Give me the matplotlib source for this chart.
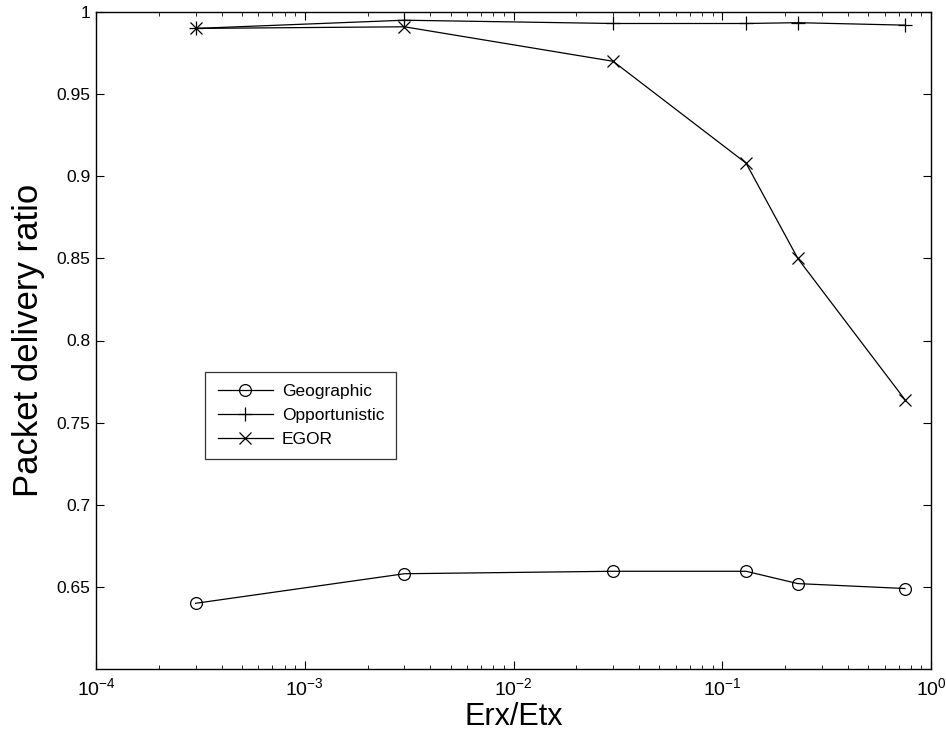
import matplotlib
matplotlib.use("Agg")
import matplotlib.pyplot as plt
from matplotlib.ticker import LogLocator, NullFormatter, FixedLocator

plt.rcParams['font.family'] = ['Liberation Sans', 'DejaVu Sans']
plt.rcParams['mathtext.fontset'] = 'custom'
plt.rcParams['mathtext.rm'] = 'Liberation Sans'
plt.rcParams['mathtext.it'] = 'Liberation Sans'

x = [3e-4, 3e-3, 3e-2, 0.13, 0.23, 0.75]
geographic = [0.640, 0.658, 0.6595, 0.6595, 0.652, 0.649]
opportunistic = [0.990, 0.995, 0.993, 0.993, 0.9935, 0.992]
egor = [0.990, 0.991, 0.970, 0.908, 0.850, 0.764]

yticks = [0.65, 0.7, 0.75, 0.8, 0.85, 0.9, 0.95, 1.0]
ytick_labels = ["0.65", "0.7", "0.75", "0.8", "0.85", "0.9", "0.95", "1"]

fig = plt.figure(figsize=(9.46, 7.36), dpi=100)
ax = fig.add_axes([96/946, 1-669/736, 835/946, 657/736])

lw = 0.9
ax.plot(x, geographic, color='black', lw=lw, marker='o', ms=8.5, mfc='none', mew=0.9, label='Geographic')
ax.plot(x, opportunistic, color='black', lw=lw, marker='+', ms=10, mew=0.9, label='Opportunistic')
ax.plot(x, egor, color='black', lw=lw, marker='x', ms=8, mew=0.9, label='EGOR')

ax.set_xscale('log')
ax.set_xlim(1e-4, 1)
ax.set_ylim(0.6, 1.0)
ax.yaxis.set_major_locator(FixedLocator(yticks))
ax.set_yticklabels(ytick_labels)
ax.xaxis.set_major_locator(LogLocator(base=10, numticks=10))
ax.xaxis.set_minor_locator(LogLocator(base=10, subs=range(2, 10), numticks=20))
ax.xaxis.set_minor_formatter(NullFormatter())

ax.tick_params(which='both', direction='in', top=True, right=True)
ax.tick_params(axis='y', labelsize=12.5)
ax.tick_params(axis='x', labelsize=14)
ax.tick_params(which='major', length=6, width=0.8)
ax.tick_params(axis='y', which='major', pad=4)
ax.tick_params(axis='x', which='major', pad=6)
ax.tick_params(which='minor', length=3, width=0.6)
for s in ax.spines.values():
    s.set_linewidth(1.0)

ax.set_xlabel('Erx/Etx', fontsize=22, labelpad=2)
ax.set_ylabel('Packet delivery ratio', fontsize=25, labelpad=8)

leg = ax.legend(loc='upper left', bbox_to_anchor=(0.131, 0.452), fontsize=12.5,
                frameon=True, fancybox=False, edgecolor='black', handlelength=3.2,
                borderpad=0.7, labelspacing=0.5, handletextpad=0.5, borderaxespad=0)
leg.get_frame().set_linewidth(0.9)

fig.savefig('out.png', dpi=100)
